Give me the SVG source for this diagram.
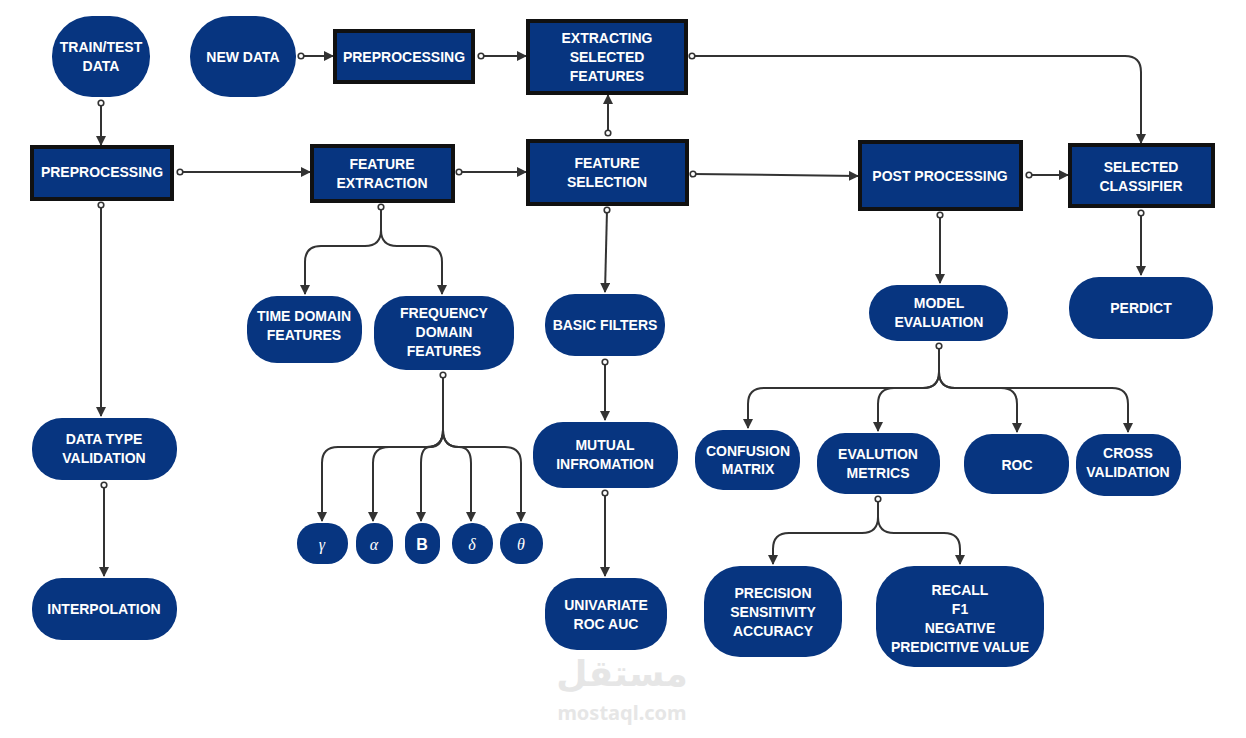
<svg xmlns="http://www.w3.org/2000/svg" width="1246" height="738" viewBox="0 0 1246 738">
<defs>
<marker id="ah" viewBox="0 0 10 10" refX="9" refY="5" markerWidth="5" markerHeight="5" orient="auto"><path d="M0,0 L10,5 L0,10 z" fill="#333"/></marker>
<marker id="dot" viewBox="0 0 10 10" refX="5" refY="5" markerWidth="4" markerHeight="4" orient="auto"><circle cx="5" cy="5" r="3.5" fill="#fff" stroke="#333" stroke-width="2"/></marker>
<style>
.n{fill:#073580}
.b{fill:#073580;stroke:#111;stroke-width:4}
.t{font-family:"Liberation Sans",Arial,sans-serif;font-weight:bold;font-size:14px;fill:#fff;text-anchor:middle}
.g{font-family:"Liberation Serif",serif;font-style:italic;font-size:16px;fill:#fff;text-anchor:middle}
.c{fill:none;stroke:#333;stroke-width:2;marker-start:url(#dot);marker-end:url(#ah)}
.c2{fill:none;stroke:#333;stroke-width:2;marker-end:url(#ah)}
</style>
</defs>
<rect width="1246" height="738" fill="#fff"/>
<g id="wm" font-family="'Noto Sans','DejaVu Sans',sans-serif" font-weight="bold" fill="#e6e6e6" text-anchor="middle">
<text x="622" y="686" font-size="36">مستقل</text>
<text x="622" y="720" font-size="20">mostaql.com</text>
</g>
<g id="connectors">
<path class="c" d="M101,103 V145"/>
<path class="c" d="M301,56 H333"/>
<path class="c" d="M481,56 H526"/>
<path class="c" d="M692,56 H1125 Q1141,56 1141,72 V143"/>
<path class="c" d="M180,172 H310"/>
<path class="c" d="M459,172 H526"/>
<path class="c" d="M608,133 V95"/>
<path class="c" d="M693,174 L858,176"/>
<path class="c" d="M1029,175 H1068"/>
<path class="c" d="M1141,213 V275"/>
<path class="c" d="M101,205 V416"/>
<path class="c" d="M104,485 V576"/>
<path class="c" d="M381,207 V230 Q381,246 365,246 H321 Q305,246 305,262 V294"/>
<path class="c2" d="M381,230 Q381,246 397,246 H426 Q442,246 442,262 V294"/>
<path class="c" d="M443,375 V430 Q443,447 427,447 H338 Q322,447 322,463 V521"/>
<path class="c2" d="M443,430 Q443,447 427,447 H389 Q373,447 373,463 V521"/>
<path class="c2" d="M443,430 Q443,447 430,447 Q421,447 421,463 V521"/>
<path class="c2" d="M443,430 Q443,447 459,447 Q471,447 471,463 V521"/>
<path class="c2" d="M443,430 Q443,447 459,447 H505 Q521,447 521,463 V521"/>
<path class="c" d="M607,210 L605,292"/>
<path class="c" d="M605,362 V420"/>
<path class="c" d="M605,493 V576"/>
<path class="c" d="M940,215 V283"/>
<path class="c" d="M939,346 V372 Q939,388 923,388 H764 Q748,388 748,404 V428"/>
<path class="c2" d="M939,372 Q939,388 923,388 H894 Q878,388 878,404 V431"/>
<path class="c2" d="M939,372 Q939,388 955,388 H1001 Q1017,388 1017,404 V432"/>
<path class="c2" d="M939,372 Q939,388 955,388 H1112 Q1128,388 1128,404 V432"/>
<path class="c" d="M878,499 V517 Q878,533 862,533 H789 Q773,533 773,549 V564"/>
<path class="c2" d="M878,517 Q878,533 894,533 H944 Q960,533 960,549 V564"/>
</g>
<g id="train"><rect class="n" x="52" y="16" width="98" height="81" rx="40"/><text class="t" x="101" y="52">TRAIN/TEST</text><text class="t" x="101" y="71">DATA</text></g>
<g id="newdata"><rect class="n" x="190" y="16" width="106" height="81" rx="40"/><text class="t" x="243" y="62">NEW DATA</text></g>
<g id="prep1"><rect class="b" x="335" y="31" width="138" height="51"/><text class="t" x="404" y="62">PREPROCESSING</text></g>
<g id="extract"><rect class="b" x="528" y="21" width="158" height="72"/><text class="t" x="607" y="43">EXTRACTING</text><text class="t" x="607" y="62">SELECTED</text><text class="t" x="607" y="81">FEATURES</text></g>
<g id="prep2"><rect class="b" x="32" y="147" width="140" height="52"/><text class="t" x="102" y="177">PREPROCESSING</text></g>
<g id="fe"><rect class="b" x="312" y="146" width="141" height="55"/><text class="t" x="382" y="169">FEATURE</text><text class="t" x="382" y="188">EXTRACTION</text></g>
<g id="fs"><rect class="b" x="528" y="141" width="159" height="63"/><text class="t" x="607" y="168">FEATURE</text><text class="t" x="607" y="187">SELECTION</text></g>
<g id="pp"><rect class="b" x="860" y="142" width="161" height="67"/><text class="t" x="940" y="181">POST PROCESSING</text></g>
<g id="sc"><rect class="b" x="1070" y="145" width="143" height="61"/><text class="t" x="1141" y="172">SELECTED</text><text class="t" x="1141" y="191">CLASSIFIER</text></g>
<g id="tdf"><rect class="n" x="247" y="296" width="115" height="67" rx="30"/><text class="t" x="304" y="321">TIME DOMAIN</text><text class="t" x="304" y="340">FEATURES</text></g>
<g id="fdf"><rect class="n" x="374" y="296" width="140" height="74" rx="32"/><text class="t" x="444" y="318">FREQUENCY</text><text class="t" x="444" y="337">DOMAIN</text><text class="t" x="444" y="356">FEATURES</text></g>
<g id="bf"><rect class="n" x="545" y="294" width="120" height="62" rx="30"/><text class="t" x="605" y="330">BASIC FILTERS</text></g>
<g id="mi"><rect class="n" x="533" y="422" width="145" height="66" rx="30"/><text class="t" x="605" y="450">MUTUAL</text><text class="t" x="605" y="469">INFROMATION</text></g>
<g id="uroc"><rect class="n" x="545" y="578" width="122" height="72" rx="32"/><text class="t" x="606" y="610">UNIVARIATE</text><text class="t" x="606" y="629">ROC AUC</text></g>
<g id="dtv"><rect class="n" x="32" y="418" width="145" height="62" rx="30"/><text class="t" x="104" y="444">DATA TYPE</text><text class="t" x="104" y="463">VALIDATION</text></g>
<g id="interp"><rect class="n" x="32" y="578" width="145" height="62" rx="30"/><text class="t" x="104" y="614">INTERPOLATION</text></g>
<g id="me"><rect class="n" x="869" y="285" width="139" height="56" rx="28"/><text class="t" x="939" y="308">MODEL</text><text class="t" x="939" y="327">EVALUATION</text></g>
<g id="perdict"><rect class="n" x="1069" y="277" width="144" height="62" rx="30"/><text class="t" x="1141" y="313">PERDICT</text></g>
<g id="cm"><rect class="n" x="695" y="430" width="105" height="60" rx="28"/><text class="t" x="748" y="456">CONFUSION</text><text class="t" x="748" y="474">MATRIX</text></g>
<g id="em"><rect class="n" x="817" y="433" width="123" height="61" rx="28"/><text class="t" x="878" y="459">EVALUTION</text><text class="t" x="878" y="478">METRICS</text></g>
<g id="roc"><rect class="n" x="964" y="434" width="105" height="60" rx="28"/><text class="t" x="1017" y="470">ROC</text></g>
<g id="cv"><rect class="n" x="1076" y="434" width="105" height="62" rx="28"/><text class="t" x="1128" y="458">CROSS</text><text class="t" x="1128" y="477">VALIDATION</text></g>
<g id="psa"><rect class="n" x="704" y="566" width="138" height="91" rx="36"/><text class="t" x="773" y="598">PRECISION</text><text class="t" x="773" y="617">SENSITIVITY</text><text class="t" x="773" y="636">ACCURACY</text></g>
<g id="rec"><rect class="n" x="876" y="566" width="168" height="101" rx="38"/><text class="t" x="960" y="595">RECALL</text><text class="t" x="960" y="614">F1</text><text class="t" x="960" y="633">NEGATIVE</text><text class="t" x="960" y="652">PREDICITIVE VALUE</text></g>
<g id="gamma"><rect class="n" x="297" y="523" width="51" height="41" rx="20"/><text class="g" x="322" y="550">γ</text></g>
<g id="alpha"><rect class="n" x="356" y="523" width="37" height="41" rx="18"/><text class="g" x="374" y="550">α</text></g>
<g id="beta"><rect class="n" x="405" y="523" width="35" height="41" rx="17"/><text class="t" x="422" y="550" style="font-size:16px">B</text></g>
<g id="delta"><rect class="n" x="452" y="523" width="41" height="41" rx="20"/><text class="g" x="472" y="550">δ</text></g>
<g id="theta"><rect class="n" x="500" y="523" width="43" height="41" rx="20"/><text class="g" x="521" y="550">θ</text></g>
</svg>
